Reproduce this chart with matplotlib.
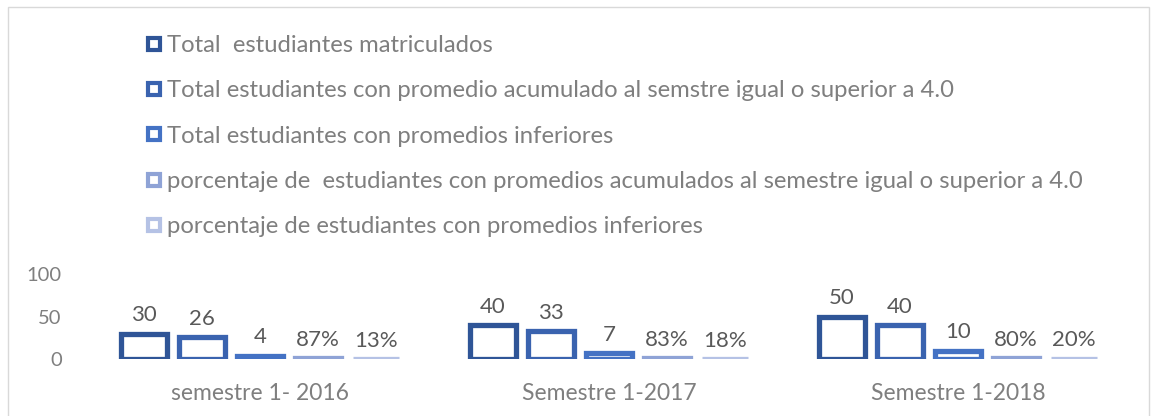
import matplotlib
matplotlib.use("Agg")
import matplotlib.pyplot as plt
from matplotlib.lines import Line2D
from matplotlib.patches import Rectangle
import numpy as np

# data
categories = ["semestre 1- 2016", "Semestre 1-2017", "Semestre 1-2018"]
series_names = [
    "Total  estudiantes matriculados",
    "Total estudiantes con promedio acumulado al semstre igual o superior a 4.0",
    "Total estudiantes con promedios inferiores",
    "porcentaje de  estudiantes con promedios acumulados al semestre igual o superior a 4.0",
    "porcentaje de estudiantes con promedios inferiores",
]
total = [30, 40, 50]
superior = [26, 33, 40]
inferior = [4, 7, 10]
pct_superior = [0.87, 0.83, 0.80]
pct_inferior = [0.13, 0.18, 0.20]
series_values = [total, superior, inferior, pct_superior, pct_inferior]
is_percent = [False, False, False, True, True]
colors = ["#2F5597", "#3A63AF", "#4472C4", "#8FA3D6", "#B5C2E5"]

plt.rcParams['font.family'] = ['Lato', 'DejaVu Sans']

fig = plt.figure(figsize=(11.52, 4.16), dpi=100)
ax = fig.add_axes([85.5 / 1152, 57 / 416, 1047 / 1152, 85 / 416])

x = np.arange(len(categories))
pitch = 0.166
width = 0.131
for i, (vals, col) in enumerate(zip(series_values, colors)):
    pos = x + (i - 2) * pitch
    bars = ax.bar(pos, vals, width, facecolor="white", edgecolor=col, linewidth=3.8)
    labels = [f"{v * 100:.0f}%" if is_percent[i] else f"{v:g}" for v in vals]
    ax.bar_label(bars, labels=labels, padding=6, fontsize=16, color="#595959")

ax.set_xlim(-0.5, 2.5)
ax.set_ylim(0, 100)
ax.set_yticks([0, 50, 100])
ax.set_xticks(x)
ax.set_xticklabels(categories)
ax.tick_params(axis="y", length=0, pad=17, labelsize=14.5, labelcolor="#7F7F7F")
ax.tick_params(axis="x", length=0, pad=17, labelsize=16.5, labelcolor="#7F7F7F")
for s in ax.spines.values():
    s.set_visible(False)

handles = [Line2D([], [], marker="s", linestyle="none", markersize=9,
                  markerfacecolor="white", markeredgecolor=c, markeredgewidth=3)
           for c in colors]
fig.legend(handles, series_names, loc="upper left", bbox_to_anchor=(147 / 1152, 1 - 35 / 416),
           frameon=False, fontsize=17.2, labelcolor="#7F7F7F", labelspacing=1.02,
           handlelength=0.6, handletextpad=0.25, borderpad=0, borderaxespad=0)

fig.patches.append(Rectangle((8 / 1152, -0.01), 1141 / 1152, 1 - 7 / 416 + 0.01,
                             transform=fig.transFigure, fill=False, edgecolor="#D9D9D9",
                             linewidth=1))

fig.savefig("out.png", dpi=100)
